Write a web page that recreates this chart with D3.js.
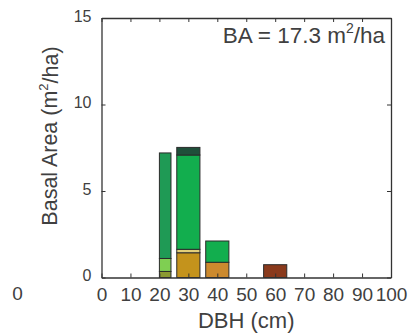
<!DOCTYPE html>
<html>
<head>
<meta charset="utf-8">
<script src="https://cdn.jsdelivr.net/npm/d3@7/dist/d3.min.js"></script>
<style>
  html, body { margin: 0; padding: 0; background: #fff; }
  svg { display: block; font-family: "Liberation Sans", Arial, sans-serif; }
</style>
</head>
<body>
<svg id="chart" width="410" height="336"></svg>
<script>
// DBH classes: left and right edge of each bar (cm)
const binLeft  = [20, 26, 36, 56];
const binRight = [24, 34, 44, 64];

// Basal area per species group in each DBH class (m2/ha), stacked bottom to top
const seriesNames = ["olive", "lightGreen", "gold", "orange", "pale", "green", "brightGreen", "darkTop", "brown"];
const olive       = [0.35, 0,    0,    0];
const lightGreen  = [0.75, 0,    0,    0];
const gold        = [0,    1.43, 0,    0];
const orange      = [0,    0,    0.88, 0];
const pale        = [0,    0.20, 0,    0];
const green       = [6.10, 0,    0,    0];
const brightGreen = [0,    5.45, 1.23, 0];
const darkTop     = [0,    0.44, 0,    0];
const brown       = [0,    0,    0,    0.74];
const seriesColors = ["#8c9a32", "#7fcf52", "#c4931c", "#cc8a2e", "#e2cf7a", "#1f9a55", "#12ae4e", "#1f4f3a", "#8a3a1c"];

const xTicks = [0, 10, 20, 30, 40, 50, 60, 70, 80, 90, 100];
const yTicks = [0, 5, 10, 15];
const totalBA = "17.3";

const seriesValues = [olive, lightGreen, gold, orange, pale, green, brightGreen, darkTop, brown];
const rows = binLeft.map((lo, i) => {
  const r = { lo: lo, hi: binRight[i] };
  seriesNames.forEach((n, k) => { r[n] = seriesValues[k][i]; });
  return r;
});

const svg = d3.select("#chart");
const plot = { left: 101.5, right: 391, top: 18, bottom: 277.5 };

const x = d3.scaleLinear().domain([0, 100]).range([plot.left, plot.right]);
const y = d3.scaleLinear().domain([0, 15]).range([plot.bottom, plot.top]);

// stacked bars
const stacked = d3.stack().keys(seriesNames)(rows);
const color = d3.scaleOrdinal().domain(seriesNames).range(seriesColors);

svg.append("g").selectAll("g")
  .data(stacked)
  .join("g")
  .attr("fill", d => color(d.key))
  .selectAll("rect")
  .data(d => d.filter(s => s[1] - s[0] > 0))
  .join("rect")
  .attr("x", d => x(d.data.lo))
  .attr("width", d => x(d.data.hi) - x(d.data.lo))
  .attr("y", d => y(d[1]))
  .attr("height", d => y(d[0]) - y(d[1]))
  .attr("stroke", "#2b2b2b")
  .attr("stroke-width", 1);

// axes: box with inward ticks
const tickLen = 4;
const axisColor = "#333";
const textColor = "#404040";

const axBottom = svg.append("g").attr("transform", `translate(0,${plot.bottom})`)
  .call(d3.axisBottom(x).tickValues(xTicks).tickSizeInner(-tickLen).tickSizeOuter(0).tickPadding(10));
const axTop = svg.append("g").attr("transform", `translate(0,${plot.top})`)
  .call(d3.axisTop(x).tickValues(xTicks).tickSizeInner(-tickLen).tickSizeOuter(0).tickFormat(""));
const axLeft = svg.append("g").attr("transform", `translate(${plot.left},0)`)
  .call(d3.axisLeft(y).tickValues(yTicks).tickSizeInner(-tickLen).tickSizeOuter(0).tickPadding(10));
const axRight = svg.append("g").attr("transform", `translate(${plot.right},0)`)
  .call(d3.axisRight(y).tickValues(yTicks).tickSizeInner(-tickLen).tickSizeOuter(0).tickFormat(""));

[axBottom, axTop, axLeft, axRight].forEach(g => {
  g.select(".domain").attr("stroke", axisColor).attr("stroke-width", 1.3);
  g.selectAll(".tick line").attr("stroke", axisColor);
  g.selectAll(".tick text").attr("fill", textColor).attr("font-family", "Liberation Sans, Arial, sans-serif");
});
axBottom.selectAll(".tick text").attr("font-size", 19).attr("dy", "0.71em");
axLeft.selectAll(".tick text").attr("font-size", 16).attr("dy", "0.2em");

// stray zero at far left of the tick label row
svg.append("text")
  .attr("x", 17.5).attr("y", 300)
  .attr("text-anchor", "middle")
  .attr("font-size", 19).attr("fill", textColor)
  .text("0");

// axis titles
svg.append("text")
  .attr("x", (plot.left + plot.right) / 2).attr("y", 328)
  .attr("text-anchor", "middle")
  .attr("font-size", 22).attr("fill", textColor)
  .text("DBH (cm)");

const yTitle = svg.append("text")
  .attr("transform", `translate(57,136) rotate(-90)`)
  .attr("text-anchor", "middle")
  .attr("font-size", 21.5).attr("fill", textColor);
yTitle.append("tspan").text("Basal Area (m");
yTitle.append("tspan").attr("font-size", 13).attr("dy", "-0.7em").text("2");
yTitle.append("tspan").attr("dy", "0.45em").text("/ha)");

// total basal area annotation
const ba = svg.append("text")
  .attr("x", 385).attr("y", 43)
  .attr("text-anchor", "end")
  .attr("font-size", 22.5).attr("fill", textColor);
ba.append("tspan").text(`BA = ${totalBA} m`);
ba.append("tspan").attr("font-size", 14).attr("dy", "-0.7em").text("2");
ba.append("tspan").attr("dy", "0.45em").text("/ha");
</script>
</body>
</html>
